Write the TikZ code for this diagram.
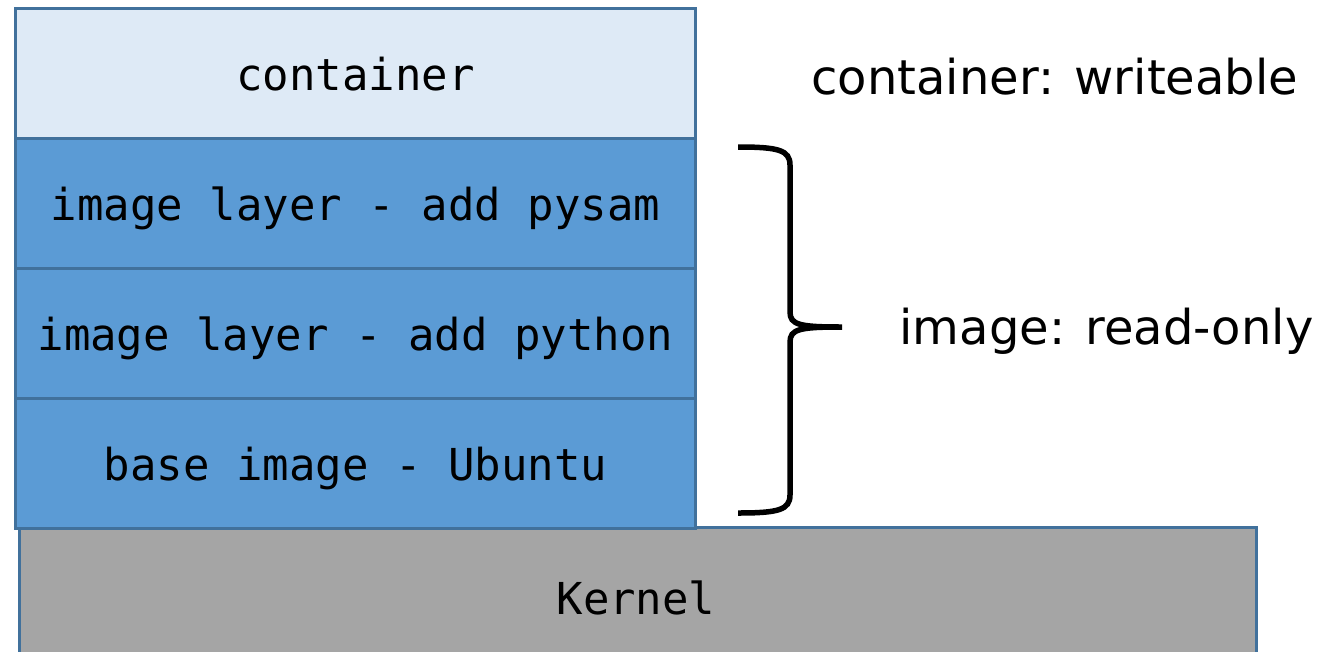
\documentclass[tikz,border=0pt]{standalone}
\usepackage{fontspec}
\setmainfont{DejaVu Sans}
\newfontfamily\monof{DejaVu Sans Mono}
\definecolor{edge}{HTML}{41719C}
\definecolor{lightfill}{HTML}{DEEAF6}
\definecolor{bluefill}{HTML}{5B9BD5}
\definecolor{grayfill}{HTML}{A5A5A5}
\begin{document}
\begin{tikzpicture}[x=1pt,y=-1pt,
  layer/.style={draw=edge,line width=2.8pt,minimum width=680pt,minimum height=130pt,inner sep=0pt,font=\monof\fontsize{44}{50}\selectfont,anchor=north west,text depth=0pt},
  lbl/.style={font=\fontsize{48}{56}\selectfont,anchor=west}]
\useasboundingbox (0,0) rectangle (1331,651);
\begin{scope}
\clip (0,0) rectangle (1331,651);
\node[layer,fill=grayfill,minimum width=1237pt,minimum height=140pt] (kernel) at (18,526) {};
\node at (636,598) [font=\monof\fontsize{44}{50}\selectfont] {Kernel};
\end{scope}
\node[layer,fill=lightfill] (cont) at (14,7) {container};
\node[layer,fill=bluefill] (pysam) at (14,137) {image layer - add pysam};
\node[layer,fill=bluefill] (python) at (14,267) {image layer - add python};
\node[layer,fill=bluefill] (base) at (14,397) {base image - Ubuntu};
\coordinate (bt) at (738,147);
\coordinate (bb) at (738,513);
\coordinate (tip) at (842,327);
\draw[line width=5.5pt] (bt) .. controls (778,147) and (790,150) .. (790,165) -- (790,312) .. controls (790,325) and (800,327) .. (tip)
  (tip) .. controls (800,327) and (790,329) .. (790,342) -- (790,495) .. controls (790,510) and (778,513) .. (bb);
\node[lbl] (wlab) at (808,77) {container: writeable};
\node[lbl] (rlab) at (896,331) {image: read-only};
\end{tikzpicture}
\end{document}
